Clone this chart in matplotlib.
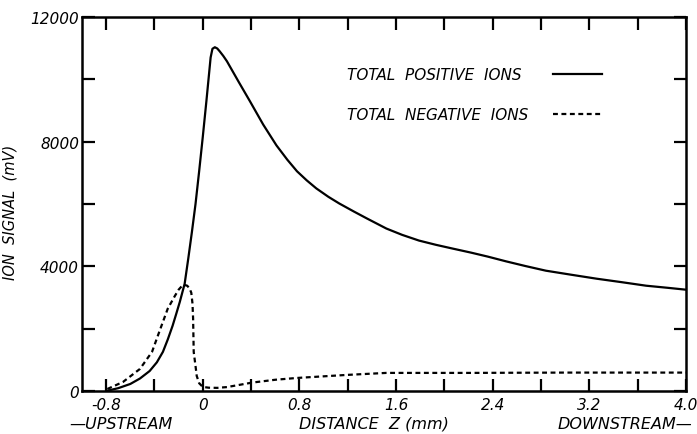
import matplotlib
matplotlib.use("Agg")
import matplotlib.pyplot as plt
from matplotlib.ticker import MultipleLocator, FixedLocator, FixedFormatter

# Axial position z (mm) and ion signal (mV)
z_pos = [-0.80, -0.70, -0.60, -0.52, -0.44, -0.38, -0.33, -0.29, -0.25, -0.22,
         -0.19, -0.15, -0.12, -0.09, -0.06, -0.03, 0.00, 0.03, 0.05, 0.065,
         0.08, 0.10, 0.12, 0.14, 0.17, 0.20, 0.30, 0.39, 0.50,
         0.61, 0.70, 0.78, 0.86, 0.94, 1.04, 1.13, 1.25, 1.36, 1.52,
         1.65, 1.79, 1.93, 2.07, 2.22, 2.36, 2.51, 2.67, 2.84, 3.05,
         3.26, 3.47, 3.67, 3.85, 4.00]
pos_ions = [0, 90, 225, 400, 640, 920, 1255, 1650, 2090, 2470,
            2860, 3440, 4250, 5100, 6000, 7050, 8150, 9300, 10100, 10700,
            10980, 11030, 10990, 10900, 10750, 10580, 9900, 9300, 8550,
            7880, 7420, 7050, 6760, 6500, 6230, 6016, 5760, 5533, 5212,
            5010, 4826, 4690, 4568, 4440, 4311, 4160, 4010, 3860, 3730,
            3603, 3490, 3378, 3310, 3250]

z_neg = [-0.79, -0.66, -0.52, -0.42, -0.36, -0.29, -0.23, -0.20, -0.17, -0.15,
         -0.13, -0.11, -0.095, -0.085, -0.08, -0.075, -0.06, -0.05, -0.03, 0.00,
         0.05, 0.12, 0.20, 0.28, 0.41, 0.60, 0.78, 1.00, 1.19, 1.52,
         2.21, 3.00, 4.00]
neg_ions = [64, 290, 708, 1255, 1900, 2640, 3056, 3250, 3380, 3400,
            3380, 3300, 3150, 2800, 2316, 1255, 800, 483, 250, 130,
            105, 100, 125, 180, 270, 360, 418, 470, 515, 580,
            580, 590, 590]

x_major = [-0.8, 0.0, 0.8, 1.6, 2.4, 3.2, 4.0]
x_labels = ["-0.8", "0", "0.8", "1.6", "2.4", "3.2", "4.0"]
y_major = [0, 4000, 8000, 12000]
y_labels = ["0", "4000", "8000", "12000"]

FONT = dict(family="DejaVu Sans", style="italic")

fig = plt.figure(figsize=(6.97, 4.35), dpi=100)
ax = fig.add_axes([0.1176, 0.0989, 0.8666, 0.8597])

ax.plot(z_pos, pos_ions, color="black", lw=1.6, solid_capstyle="round",
        solid_joinstyle="round")
ax.plot(z_neg, neg_ions, color="black", lw=1.6, linestyle=(0, (2.2, 1.6)))

ax.set_xlim(-1.0, 4.0)
ax.set_ylim(0, 12000)

ax.xaxis.set_major_locator(FixedLocator(x_major))
ax.xaxis.set_major_formatter(FixedFormatter(x_labels))
ax.xaxis.set_minor_locator(MultipleLocator(0.4))
ax.yaxis.set_major_locator(FixedLocator(y_major))
ax.yaxis.set_major_formatter(FixedFormatter(y_labels))
ax.yaxis.set_minor_locator(MultipleLocator(2000))

ax.tick_params(which="both", direction="in", top=True, right=True,
               width=1.6, color="black", length=9)
ax.tick_params(axis="x", which="major", pad=4, labelsize=11)
ax.tick_params(axis="y", which="major", pad=2, labelsize=11)
for lbl in ax.get_xticklabels() + ax.get_yticklabels():
    lbl.set_fontstyle("italic")

for sp in ax.spines.values():
    sp.set_linewidth(1.8)

ax.set_ylabel("ION  SIGNAL  (mV)", fontsize=10.5, **FONT)
ax.yaxis.set_label_coords(-0.106, 0.48)

fig.text(0.10, 0.008, "\u2014UPSTREAM", fontsize=11.5, ha="left", va="bottom", **FONT)
fig.text(0.537, 0.008, "DISTANCE  Z (mm)", fontsize=11.5, ha="center", va="bottom", **FONT)
fig.text(0.993, 0.008, "DOWNSTREAM\u2014", fontsize=11.5, ha="right", va="bottom", **FONT)

# Key: labels on the left, line samples on the right
key_rows = [("TOTAL  POSITIVE  IONS", "-", 0.8476),
            ("TOTAL  NEGATIVE  IONS", (0, (2.2, 1.6)), 0.7406)]
for text, ls, yk in key_rows:
    ax.text(0.4387, yk, text, transform=ax.transAxes, fontsize=11,
            ha="left", va="center", **FONT)
    ax.plot([0.7798, 0.861], [yk, yk], transform=ax.transAxes, color="black",
            lw=1.6, linestyle=ls)

fig.savefig("out.png", dpi=100)
